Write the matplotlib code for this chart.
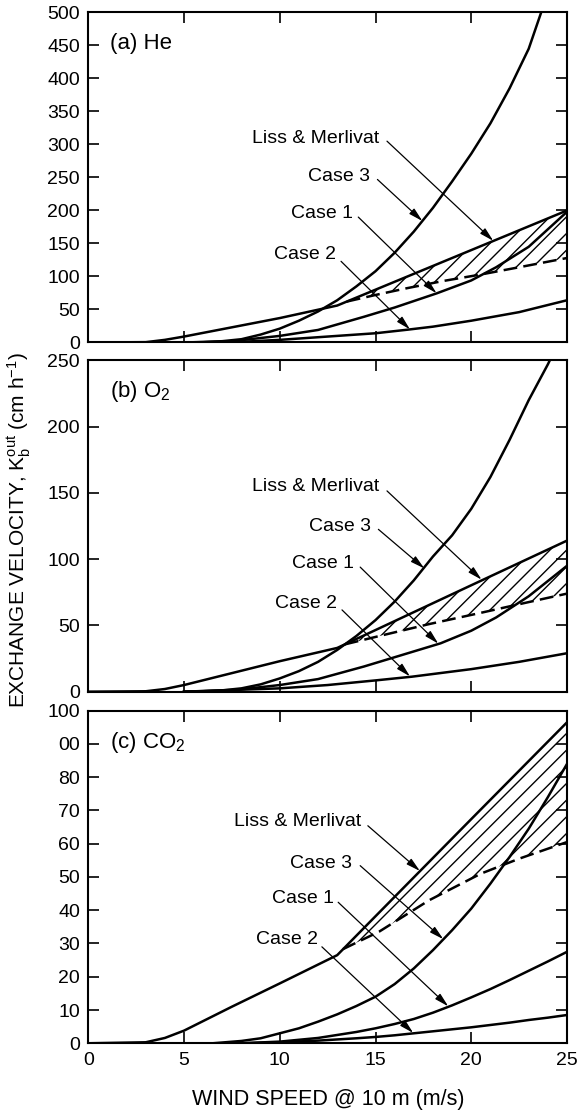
import numpy as np
import matplotlib
matplotlib.use('Agg')
import matplotlib.pyplot as plt

# Fonts #
plt.rcParams['font.family'] = ['Liberation Sans', 'DejaVu Sans']
plt.rcParams['mathtext.fontset'] = 'custom'
plt.rcParams['mathtext.rm'] = 'Liberation Sans'
plt.rcParams['mathtext.it'] = 'Liberation Sans:italic'
plt.rcParams['hatch.linewidth'] = 1.0

# Data #
# (a) He
lm_x_a = [0, 3, 4, 5, 7.5, 10, 13, 15, 20, 25]
lm_y_a = [0, 0.5, 4, 9, 23, 37, 56, 80, 140, 200]
c1_x_a = [5, 7.5, 10, 12, 14.4, 16, 18.2, 20, 21.3, 23, 25]
c1_y_a = [0, 2, 10, 19, 39, 53, 74.5, 94, 114, 145, 198]
c2_x_a = [5, 8, 10, 12.5, 15, 16.7, 18, 20, 22.5, 25]
c2_y_a = [0, 1, 4, 9, 14, 19.5, 24, 33, 46, 64]
c3_x_a = [4.5, 6, 7, 8, 9, 10, 11, 12, 13, 14, 15, 16, 17, 18, 19, 20, 21, 22, 23, 23.65]
c3_y_a = [0, 0.5, 2, 5, 12, 21, 33, 47, 64, 85, 108, 136, 168, 204, 244, 286, 332, 385, 445, 500]
dash_x_a = [13.5, 15, 16.6, 18.5, 20.5, 22.5, 25]
dash_y_a = [62, 72, 82, 93, 103, 114, 128]

# (b) O2
lm_x_b = [0, 3, 4, 5, 7.5, 10, 13, 15, 20, 25]
lm_y_b = [0, 0.3, 2, 5, 14, 23, 33, 46.5, 80.3, 114]
c1_x_b = [5, 7.5, 10, 12, 14.4, 16, 18.4, 20, 21.3, 23, 25]
c1_y_b = [0, 1, 5, 9.5, 19, 26, 36.5, 46, 56, 72, 95]
c2_x_b = [5, 10, 12.5, 15, 16.9, 20, 22.5, 25]
c2_y_b = [0, 2.5, 5, 8.5, 11.3, 17, 22.5, 29]
c3_x_b = [5, 6, 7, 8, 9, 10, 11, 12, 13, 14, 15, 16, 17, 18, 19, 20, 21, 22, 23, 24, 24.1]
c3_y_b = [0, 0.3, 1, 2.5, 5.5, 10, 15.5, 22.5, 31.5, 42, 54, 68, 84, 102, 118, 138, 162, 190, 220, 247, 250]
dash_x_b = [13.4, 15.2, 17.8, 20.5, 22.5, 25]
dash_y_b = [35.7, 42, 51, 59.5, 66, 74]

# (c) CO2
lm_x_c = [0, 3, 4, 5, 7.5, 10, 13, 15, 20, 25]
lm_y_c = [0, 0.3, 1.6, 3.8, 11, 18, 26.5, 38.2, 67.4, 96.5]
c1_x_c = [8, 10, 12, 14, 15, 16, 17, 18, 19, 20, 21, 22, 23, 24, 25]
c1_y_c = [0, 0.5, 1.6, 3.4, 4.5, 5.8, 7.3, 9.2, 11.4, 13.8, 16.3, 19, 21.8, 24.6, 27.5]
c2_x_c = [8, 10, 12, 14, 15, 16, 17, 18, 19, 20, 21, 22, 23, 24, 25]
c2_y_c = [0, 0.3, 0.8, 1.5, 1.9, 2.4, 3, 3.6, 4.2, 4.8, 5.5, 6.2, 7, 7.7, 8.5]
c3_x_c = [6.5, 8, 9, 10, 11, 12, 13, 14, 15, 16, 17, 18, 19, 20, 21, 22, 23, 24, 25]
c3_y_c = [0, 0.7, 1.5, 3, 4.5, 6.5, 8.7, 11.2, 14, 17.8, 22.5, 28, 34, 40.5, 48, 56, 64.5, 74, 84]
dash_x_c = [13.3, 15.2, 17.8, 20.5, 22.5, 25]
dash_y_c = [28.3, 33.6, 43, 51, 55.5, 60.5]

# Axis ticks / labels
wind_ticks = [0, 5, 10, 15, 20, 25]
yticks_a = list(range(0, 501, 50))
yticks_b = list(range(0, 251, 50))
yticks_c = list(range(0, 101, 10))
ylabels_c = ['0', '10', '20', '30', '40', '50', '60', '70', '80', '00', '100']
panel_titles = ['(a) He', '(b) O$_2$', '(c) CO$_2$']
curve_names = ['Liss & Merlivat', 'Case 3', 'Case 1', 'Case 2']

# Layout of the labels: (text x, text y, arrow start x, y, arrow tip x, y)
notes_a = [(11.88, 309, 15.6, 305, 21.15, 154),
           (13.1, 251, 15.1, 247, 17.45, 184),
           (12.23, 196, 14.1, 190, 18.19, 74.5),
           (11.32, 133, 13.2, 123, 16.8, 19.8)]
notes_b = [(11.88, 154.7, 15.6, 151.5, 20.54, 84.5),
           (13.14, 124.5, 15.15, 122.5, 17.55, 93),
           (12.27, 96.9, 14.2, 94, 18.28, 36.2),
           (11.36, 66.7, 13.25, 61.7, 16.8, 11.5)]
notes_c = [(10.92, 66.6, 14.6, 65.4, 17.32, 51.8),
           (12.14, 54.1, 14.2, 53.4, 18.54, 31.3),
           (11.23, 43.6, 13.05, 42.4, 18.8, 11.1),
           (10.36, 31.1, 12.2, 29, 16.97, 3.1)]

FS = 14


def draw_panel(ax, lm, c1, c2, c3, dash, yticks, ylabels, ymax, title, notes):
    lw = 1.8
    # Hatched band between Liss & Merlivat and the dashed curve
    lx, ly = np.array(lm[0]), np.array(lm[1])
    dx, dy = np.array(dash[0]), np.array(dash[1])
    keep = lx > dx[0]
    px = np.concatenate([[dx[0]], lx[keep], dx[::-1]])
    py = np.concatenate([[dy[0]], ly[keep], dy[::-1]])
    ax.fill(px, py, facecolor='none', edgecolor='black', hatch='//', linewidth=0)

    ax.plot(lx, ly, color='black', lw=lw)
    ax.plot(c1[0], c1[1], color='black', lw=lw)
    ax.plot(c2[0], c2[1], color='black', lw=lw)
    ax.plot(c3[0], c3[1], color='black', lw=lw)
    ax.plot(dx, dy, color='black', lw=lw, dashes=(5.5, 2.5))

    ax.set_xlim(0, 25)
    ax.set_ylim(0, ymax)
    ax.set_xticks(wind_ticks)
    ax.set_yticks(yticks)
    if ylabels is not None:
        ax.set_yticklabels(ylabels)
    ax.tick_params(direction='in', length=8, width=1.2, top=True, right=True,
                   labelsize=FS, pad=6)
    for s in ax.spines.values():
        s.set_linewidth(1.5)

    ax.text(0.045, 0.905, title, transform=ax.transAxes, fontsize=16,
            ha='left', va='center')

    for name, (tx, ty, sx, sy, ex, ey) in zip(curve_names, notes):
        ax.text(tx, ty, name, fontsize=FS, ha='center', va='center')
        ax.annotate('', xy=(ex, ey), xytext=(sx, sy),
                    arrowprops=dict(arrowstyle='-|>,head_length=0.7,head_width=0.18',
                                    lw=0.9, color='black', shrinkA=0, shrinkB=0,
                                    mutation_scale=12))


fig = plt.figure(figsize=(5.8, 11.12), dpi=100)
ax_a = fig.add_axes([0.1522, 0.6920, 0.8254, 0.2968])
ax_b = fig.add_axes([0.1522, 0.3780, 0.8254, 0.2979])
ax_c = fig.add_axes([0.1522, 0.0618, 0.8254, 0.2991])

draw_panel(ax_a, (lm_x_a, lm_y_a), (c1_x_a, c1_y_a), (c2_x_a, c2_y_a), (c3_x_a, c3_y_a),
           (dash_x_a, dash_y_a), yticks_a, None, 500, panel_titles[0], notes_a)
draw_panel(ax_b, (lm_x_b, lm_y_b), (c1_x_b, c1_y_b), (c2_x_b, c2_y_b), (c3_x_b, c3_y_b),
           (dash_x_b, dash_y_b), yticks_b, None, 250, panel_titles[1], notes_b)
draw_panel(ax_c, (lm_x_c, lm_y_c), (c1_x_c, c1_y_c), (c2_x_c, c2_y_c), (c3_x_c, c3_y_c),
           (dash_x_c, dash_y_c), yticks_c, ylabels_c, 100, panel_titles[2], notes_c)

ax_a.tick_params(labelbottom=False)
ax_b.tick_params(labelbottom=False)

fig.text(0.5655, 0.0108, 'WIND SPEED @ 10 m (m/s)', fontsize=15.5,
         ha='center', va='center')
fig.text(0.034, 0.5234, r'EXCHANGE VELOCITY, K$_\mathrm{b}^\mathrm{out}$ (cm h$^{\mathrm{-1}}$)',
         fontsize=15, rotation=90, ha='center', va='center')

fig.savefig('out.png', dpi=100)
